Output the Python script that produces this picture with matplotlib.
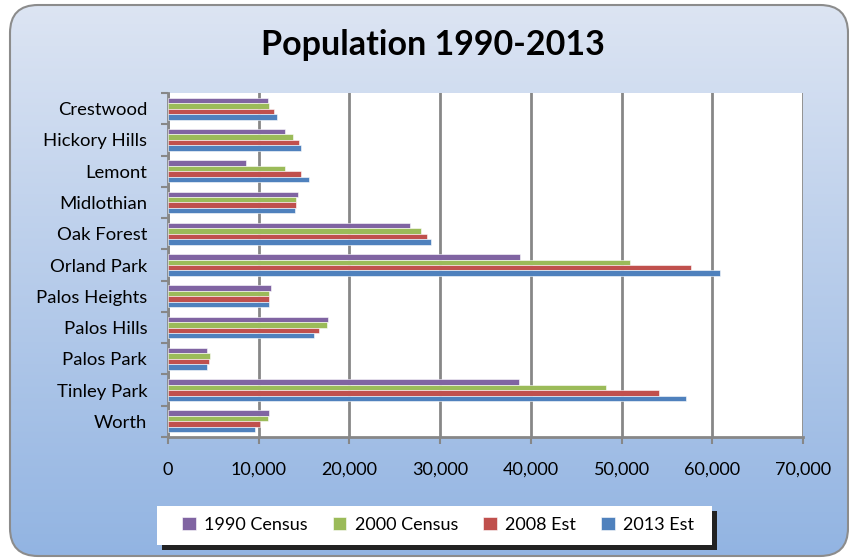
import matplotlib
matplotlib.use("Agg")
import matplotlib.pyplot as plt
import numpy as np
from matplotlib.patches import FancyBboxPatch, Rectangle
from matplotlib.ticker import FuncFormatter, MultipleLocator

plt.rcParams['font.family'] = ['Lato', 'DejaVu Sans']

categories = ["Crestwood", "Hickory Hills", "Lemont", "Midlothian", "Oak Forest",
              "Orland Park", "Palos Heights", "Palos Hills", "Palos Park",
              "Tinley Park", "Worth"]
series_names = ["1990 Census", "2000 Census", "2008 Est", "2013 Est"]
census_1990 = [11000, 12900, 8560, 14330, 26680, 38800, 11360, 17670, 4300, 38650, 11170]
census_2000 = [11170, 13800, 12930, 14150, 27900, 50970, 11170, 17500, 4630, 48330, 10990]
est_2008 = [11720, 14480, 14700, 14150, 28590, 57660, 11170, 16650, 4480, 54130, 10140]
est_2013 = [12050, 14700, 15580, 13970, 28960, 60860, 11170, 16100, 4300, 57110, 9590]
colors = ["#8064A2", "#9BBB59", "#C0504D", "#4F81BD"]

W, H = 849, 558
fig = plt.figure(figsize=(W / 100, H / 100), dpi=100)

# background gradient in rounded frame
bg = fig.add_axes([0, 0, 1, 1], zorder=-10)
bg.set_xlim(0, W)
bg.set_ylim(H, 0)
bg.axis('off')
grad = np.linspace(0, 1, 256)[:, None]
top = np.array([0xdd, 0xe5, 0xf3]) / 255
bot = np.array([0x92, 0xb4, 0xe2]) / 255
img = top[None, None, :] * (1 - grad[:, :, None]) + bot[None, None, :] * grad[:, :, None]
im = bg.imshow(img, extent=[0, W, H, 0], aspect='auto')
frame = FancyBboxPatch((10, 5), 838, 551, boxstyle="round,pad=0,rounding_size=28",
                       facecolor='none', edgecolor='#8c8c8c', linewidth=1.5)
bg.add_patch(frame)
im.set_clip_path(frame)

# legend shadow + box
bg.add_patch(Rectangle((162, 511), 555, 39, facecolor='#222222', edgecolor='none'))
bg.add_patch(Rectangle((157, 506), 555, 39, facecolor='white', edgecolor='none'))

ax = fig.add_axes([168 / W, 1 - 437 / H, (803 - 168) / W, (437 - 93) / H])
ax.set_facecolor('white')
y = np.arange(len(categories))
h = 0.175
data = [census_1990, census_2000, est_2008, est_2013]
for i, (vals, c, name) in enumerate(zip(data, colors, series_names)):
    ax.barh(y + (i - 1.5) * h, vals, height=h, color=c, label=name,
            edgecolor='white', linewidth=0.4, zorder=3)

ax.set_xlim(0, 70000)
ax.set_ylim(len(categories) - 0.5, -0.5)
ax.xaxis.set_major_locator(MultipleLocator(10000))
ax.xaxis.set_major_formatter(FuncFormatter(lambda v, p: f"{int(v):,}"))
ax.grid(axis='x', color='#878787', linewidth=2, zorder=1)
ax.set_yticks(y)
ax.set_yticklabels(categories)
ax.set_yticks(np.arange(-0.5, len(categories), 1), minor=True)
ax.tick_params(axis='y', which='major', length=0, pad=15, labelsize=13.3)
ax.tick_params(axis='y', which='minor', length=5, width=1.5, color='#878787')
ax.tick_params(axis='x', length=5, width=1.5, color='#878787', labelsize=13, pad=13)
for s in ['top', 'right']:
    ax.spines[s].set_visible(False)
for s in ['left', 'bottom']:
    ax.spines[s].set_color('#878787')
    ax.spines[s].set_linewidth(2)

fig.text(433 / W, 1 - 45 / H, "Population 1990-2013", ha='center', va='center',
         fontsize=24.5, fontweight='bold')

leg = fig.legend(loc='center', bbox_to_anchor=(438 / W, 1 - 525 / H), ncol=4,
                 frameon=False, fontsize=13, handlelength=0.75, handleheight=0.75,
                 columnspacing=1.4, handletextpad=0.45)

fig.savefig("out.png", dpi=100)
